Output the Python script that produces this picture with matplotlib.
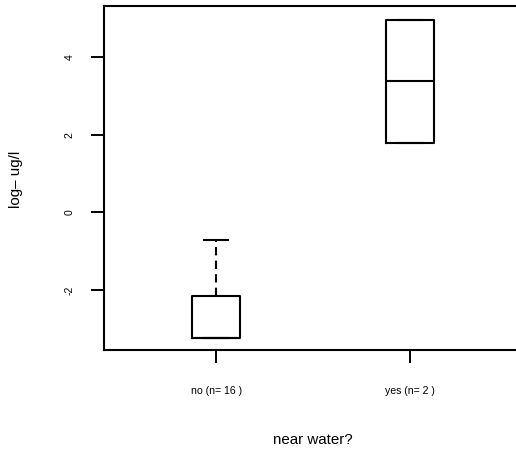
import matplotlib
matplotlib.use("Agg")
import matplotlib.pyplot as plt

groups = ["no", "yes"]
counts = [16, 2]
q1 = [-3.22, 1.78]
medians = [-3.22, 3.37]
q3 = [-2.155, 4.96]
whislo = [-3.22, 1.78]
whishi = [-0.70, 4.96]
yticks = [-2, 0, 2, 4]
xlabel = "near water?"
ylabel = "log\u2013 ug/l"

plt.rcParams['font.family'] = ['Liberation Sans', 'DejaVu Sans']
plt.rcParams['axes.unicode_minus'] = False

W, H = 516, 459
fig = plt.figure(figsize=(W/100, H/100), dpi=100)
ax = fig.add_axes([104/W, (H-350)/H, 418/W, 344/H])

stats = []
for g, n, a, m, b, lo, hi in zip(groups, counts, q1, medians, q3, whislo, whishi):
    stats.append(dict(label=f"{g} (n= {n} )", q1=a, med=m, q3=b, whislo=lo, whishi=hi, fliers=[]))

lw = 1.5
ax.bxp(stats, positions=[1, 2], widths=0.25, showfliers=False,
       boxprops=dict(color='black', linewidth=lw),
       medianprops=dict(color='black', linewidth=lw),
       whiskerprops=dict(color='black', linewidth=lw, linestyle=(0, (4, 2.5))),
       capprops=dict(color='black', linewidth=lw),
       capwidths=0.125)

ax.set_xlim(0.42, 2.58)
ax.set_ylim(-3.54, 5.31)
ax.set_yticks(yticks)
ax.set_yticklabels([str(v) for v in yticks], rotation=90, va='center', fontsize=7.6)
for lab in ax.get_xticklabels():
    lab.set_fontsize(7.6)
ax.tick_params(axis='both', length=9.4, width=1.4, color='black')
ax.tick_params(axis='y', pad=11.5)
ax.tick_params(axis='x', pad=16.5)
for s in ax.spines.values():
    s.set_linewidth(1.5)

fig.text(313/W, 1 - 440/H, xlabel, ha='center', va='center', fontsize=10.9)
fig.text(16/W, 1 - 179/H, ylabel, ha='center', va='center', rotation=90, fontsize=10.9)

fig.savefig("out.png", dpi=100)
